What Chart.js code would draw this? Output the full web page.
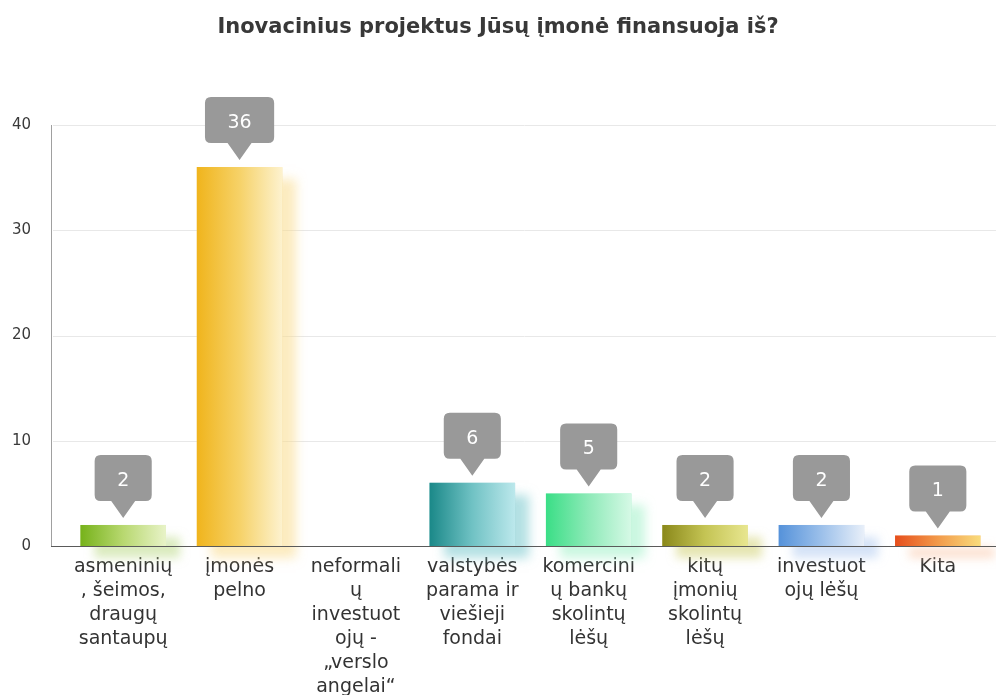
<!DOCTYPE html>
<html>
<head>
<meta charset="utf-8">
<script src="https://cdn.jsdelivr.net/npm/chart.js@4.4.1/dist/chart.umd.min.js"></script>
<style>
  html, body { margin: 0; padding: 0; background: #ffffff; }
  #wrap { width: 996px; height: 695px; }
</style>
</head>
<body>
<div id="wrap"><canvas id="c" width="996" height="695"></canvas></div>
<script>
// ---- data ----
const chartTitle = "Inovacinius projektus Jūsų įmonė finansuoja iš?";
const categories = [
  ["asmeninių", ", šeimos,", "draugų", "santaupų"],
  ["įmonės", "pelno"],
  ["neformali", "ų", "investuot", "ojų -", "„verslo", "angelai“"],
  ["valstybės", "parama ir", "viešieji", "fondai"],
  ["komercini", "ų bankų", "skolintų", "lėšų"],
  ["kitų", "įmonių", "skolintų", "lėšų"],
  ["investuot", "ojų lėšų"],
  ["Kita"]
];
const values = [2, 36, 0, 6, 5, 2, 2, 1];
const yTicks = [0, 10, 20, 30, 40];

// ---- styles ----
const darkColors  = ["#76b21a", "#f0b41c", "#cccccc", "#1a8888", "#3ade86", "#8a881a", "#5592da", "#e64e1c"];
const midColors   = ["#b8d870", "#f6d268", "#dddddd", "#70c2c4", "#8eeab8", "#c4c454", "#9cc0ea", "#f29a4a"];
const paleColors  = ["#e8f3c8", "#fdf2cf", "#eeeeee", "#bce8ec", "#d6f9e6", "#e8e690", "#e8eff9", "#f9dc7c"];
const shadowColors= ["rgba(190,220,140,0.75)", "rgba(250,220,140,0.75)", "rgba(0,0,0,0)", "rgba(120,200,205,0.75)", "rgba(160,240,200,0.75)", "rgba(210,210,120,0.75)", "rgba(180,205,240,0.75)", "rgba(250,200,170,0.75)"];

const FONT = "'DejaVu Sans', Verdana, sans-serif";

function barGradient(context) {
  const chart = context.chart;
  const i = context.dataIndex;
  const xs = chart.scales.x;
  if (!chart.chartArea || !xs || i === undefined) return darkColors[i] || '#999';
  const cw = xs.width / categories.length;
  const bw = cw * 0.735;
  const cx = xs.getPixelForValue(i);
  const g = chart.ctx.createLinearGradient(cx - bw / 2, 0, cx + bw / 2, 0);
  g.addColorStop(0, darkColors[i]);
  g.addColorStop(0.5, midColors[i]);
  g.addColorStop(1, paleColors[i]);
  return g;
}

const decorPlugin = {
  id: 'decor',
  beforeDatasetsDraw(chart) {
    const ctx = chart.ctx;
    const ys = chart.scales.y;
    const left = 51, right = 996;
    ctx.save();
    // gridlines
    ctx.strokeStyle = '#e8e8e8';
    ctx.lineWidth = 1;
    yTicks.forEach(v => {
      if (v === 0) return;
      const y = Math.round(ys.getPixelForValue(v)) + 0.5;
      ctx.beginPath();
      ctx.moveTo(left + 2, y);
      ctx.lineTo(right, y);
      ctx.stroke();
    });
    // y axis line
    ctx.strokeStyle = '#a0a0a0';
    ctx.beginPath();
    ctx.moveTo(left + 0.5, ys.getPixelForValue(yTicks[yTicks.length - 1]));
    ctx.lineTo(left + 0.5, ys.getPixelForValue(0));
    ctx.stroke();
    // bar shadows
    const meta = chart.getDatasetMeta(0);
    meta.data.forEach((bar, i) => {
      if (!values[i]) return;
      const p = bar.getProps(['x', 'y', 'base', 'width'], true);
      ctx.save();
      ctx.shadowColor = shadowColors[i];
      ctx.shadowBlur = 10;
      ctx.shadowOffsetX = 14;
      ctx.shadowOffsetY = 12;
      ctx.fillStyle = shadowColors[i];
      ctx.fillRect(p.x - p.width / 2, p.y, p.width, p.base - p.y);
      ctx.restore();
    });
    ctx.restore();
  },
  afterDatasetsDraw(chart) {
    const ctx = chart.ctx;
    const ys = chart.scales.y;
    ctx.save();
    // x axis line
    const y0 = Math.round(ys.getPixelForValue(0)) + 0.5;
    ctx.strokeStyle = '#5a5a5a';
    ctx.lineWidth = 1.2;
    ctx.beginPath();
    ctx.moveTo(51, y0);
    ctx.lineTo(996, y0);
    ctx.stroke();
    // callouts
    const meta = chart.getDatasetMeta(0);
    ctx.font = "19px " + FONT;
    meta.data.forEach((bar, i) => {
      if (!values[i]) return;
      const txt = String(values[i]);
      const tw = ctx.measureText(txt).width;
      const bw = tw + 45, bh = 46, r = 6;
      const tipY = bar.y - 7;
      const bottom = tipY - 17;
      const top = bottom - bh;
      const l = bar.x - bw / 2;
      ctx.fillStyle = '#999999';
      ctx.beginPath();
      ctx.moveTo(l + r, top);
      ctx.lineTo(l + bw - r, top);
      ctx.quadraticCurveTo(l + bw, top, l + bw, top + r);
      ctx.lineTo(l + bw, bottom - r);
      ctx.quadraticCurveTo(l + bw, bottom, l + bw - r, bottom);
      ctx.lineTo(bar.x + 12, bottom);
      ctx.lineTo(bar.x, tipY);
      ctx.lineTo(bar.x - 12, bottom);
      ctx.lineTo(l + r, bottom);
      ctx.quadraticCurveTo(l, bottom, l, bottom - r);
      ctx.lineTo(l, top + r);
      ctx.quadraticCurveTo(l, top, l + r, top);
      ctx.closePath();
      ctx.fill();
      ctx.fillStyle = '#ffffff';
      ctx.textAlign = 'center';
      ctx.textBaseline = 'middle';
      ctx.fillText(txt, bar.x, (top + bottom) / 2 + 3);
    });
    ctx.restore();
  }
};

new Chart(document.getElementById('c'), {
  type: 'bar',
  data: {
    labels: categories,
    datasets: [{
      data: values,
      backgroundColor: barGradient,
      borderWidth: 0,
      barPercentage: 0.735,
      categoryPercentage: 1
    }]
  },
  options: {
    responsive: false,
    animation: false,
    devicePixelRatio: 1,
    layout: { padding: 0 },
    plugins: {
      legend: { display: false },
      tooltip: { enabled: false },
      title: {
        display: true,
        text: chartTitle,
        color: '#383838',
        font: { family: FONT, size: 21, weight: 'bold', lineHeight: 1.2 },
        padding: { top: 15, bottom: 84.8 }
      }
    },
    scales: {
      x: {
        grid: { display: false, drawTicks: false },
        border: { display: false },
        ticks: {
          color: '#333333',
          font: { family: FONT, size: 19, lineHeight: '24px' },
          padding: 9,
          autoSkip: false,
          maxRotation: 0,
          minRotation: 0
        },
        afterFit: s => { s.height = 149; }
      },
      y: {
        min: 0,
        max: 40,
        grid: { display: false, drawTicks: false },
        border: { display: false },
        ticks: {
          color: '#3a3a3a',
          font: { family: FONT, size: 15 },
          padding: 34
        },
        afterBuildTicks: s => { s.ticks = yTicks.map(v => ({ value: v })); },
        afterFit: s => { s.width = 65; }
      }
    }
  },
  plugins: [decorPlugin]
});
</script>
</body>
</html>
